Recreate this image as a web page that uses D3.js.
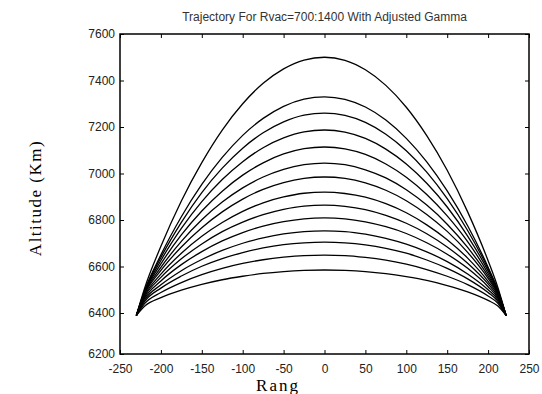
<!DOCTYPE html>
<html>
<head>
<meta charset="utf-8">
<script src="https://cdn.jsdelivr.net/npm/d3@7"></script>
<style>
  body { margin: 0; background: #fff; }
  svg { display: block; }
</style>
</head>
<body>
<svg id="chart"></svg>
<script>
// range grid (km) shared by all trajectories
const rangeKm = [-230, -220, -200, -175, -150, -125, -100, -75, -50, -25, 0,
                 25, 50, 75, 100, 125, 150, 175, 200, 212, 222];

const traj1  = [6388, 6506, 6687, 6882, 7047, 7187, 7300, 7388, 7450, 7488, 7500, 7487, 7446, 7379, 7285, 7163, 7014, 6835, 6625, 6509, 6388];
const traj2  = [6388, 6495, 6650, 6814, 6953, 7069, 7164, 7237, 7289, 7320, 7330, 7319, 7286, 7230, 7151, 7050, 6925, 6775, 6597, 6498, 6388];
const traj3  = [6388, 6494, 6639, 6790, 6918, 7023, 7109, 7175, 7222, 7251, 7260, 7250, 7220, 7169, 7098, 7006, 6892, 6755, 6590, 6497, 6388];
const traj4  = [6388, 6491, 6626, 6764, 6879, 6974, 7051, 7111, 7153, 7179, 7187, 7178, 7151, 7105, 7041, 6958, 6856, 6731, 6581, 6494, 6388];
const traj5  = [6388, 6488, 6611, 6736, 6839, 6924, 6993, 7046, 7084, 7107, 7114, 7106, 7082, 7041, 6984, 6910, 6818, 6707, 6570, 6490, 6388];
const traj6  = [6388, 6484, 6596, 6708, 6801, 6877, 6938, 6985, 7018, 7038, 7045, 7038, 7016, 6981, 6930, 6864, 6782, 6682, 6559, 6486, 6388];
const traj7  = [6388, 6480, 6583, 6684, 6767, 6835, 6890, 6932, 6961, 6979, 6985, 6979, 6960, 6928, 6883, 6824, 6751, 6661, 6549, 6482, 6388];
const traj8  = [6388, 6474, 6567, 6657, 6730, 6789, 6837, 6874, 6899, 6915, 6920, 6914, 6898, 6870, 6831, 6779, 6715, 6636, 6536, 6476, 6388];
const traj9  = [6388, 6469, 6553, 6633, 6697, 6750, 6791, 6823, 6846, 6860, 6864, 6859, 6845, 6820, 6786, 6741, 6684, 6614, 6525, 6470, 6388];
const traj10 = [6388, 6463, 6538, 6608, 6664, 6710, 6746, 6774, 6793, 6805, 6809, 6805, 6792, 6771, 6742, 6702, 6653, 6592, 6513, 6464, 6388];
const traj11 = [6388, 6456, 6521, 6582, 6630, 6669, 6700, 6723, 6740, 6750, 6753, 6750, 6739, 6721, 6696, 6663, 6621, 6568, 6500, 6457, 6388];
const traj12 = [6388, 6449, 6507, 6559, 6601, 6634, 6660, 6680, 6694, 6702, 6705, 6702, 6693, 6678, 6657, 6628, 6592, 6547, 6488, 6450, 6388];
const traj13 = [6388, 6440, 6488, 6531, 6565, 6592, 6613, 6629, 6640, 6647, 6649, 6647, 6639, 6627, 6610, 6587, 6558, 6522, 6473, 6442, 6388];
const traj14 = [6388, 6429, 6466, 6498, 6523, 6543, 6558, 6570, 6578, 6583, 6585, 6583, 6578, 6569, 6556, 6540, 6518, 6491, 6454, 6430, 6388];

const xTicks = [-250, -200, -150, -100, -50, 0, 50, 100, 150, 200, 250];
const yTicks = [6200, 6400, 6600, 6800, 7000, 7200, 7400, 7600];

const width = 542, height = 394;
const plot = { left: 120, right: 529, top: 34, bottom: 354 };

const svg = d3.select("#chart")
  .attr("width", width)
  .attr("height", height);

const x = d3.scaleLinear().domain([-250, 250]).range([plot.left, plot.right]);
// the picture's lowest interval is drawn a little shorter than the others
const y = d3.scaleLinear().domain([6200, 6400, 7600]).range([plot.bottom, 313, plot.top]);

const trajectories = [traj1, traj2, traj3, traj4, traj5, traj6, traj7,
                      traj8, traj9, traj10, traj11, traj12, traj13, traj14];

const line = d3.line()
  .x((d, i) => x(rangeKm[i]))
  .y(d => y(d))
  .curve(d3.curveMonotoneX);

svg.append("g")
  .attr("fill", "none")
  .attr("stroke", "#000")
  .attr("stroke-width", 1.3)
  .selectAll("path")
  .data(trajectories)
  .join("path")
  .attr("d", line);

// plain labels with ascii minus, like the original
const plain = d => String(d);

// axes, ticks pointing inward
const tickFont = g => g
  .attr("font-family", "'Liberation Sans', Arial, sans-serif")
  .attr("font-size", 12)
  .call(g => g.select(".domain").remove())
  .call(g => g.selectAll(".tick line").attr("stroke", "#000").attr("stroke-width", 1))
  .call(g => g.selectAll(".tick text").attr("fill", "#222"));

svg.append("g")
  .attr("transform", "translate(0," + plot.bottom + ")")
  .call(d3.axisBottom(x).tickValues(xTicks).tickFormat(plain).tickSizeInner(-4).tickSizeOuter(0).tickPadding(10))
  .call(tickFont);

svg.append("g")
  .attr("transform", "translate(0," + plot.top + ")")
  .call(d3.axisTop(x).tickValues(xTicks).tickSizeInner(-4).tickSizeOuter(0).tickFormat(""))
  .call(tickFont);

svg.append("g")
  .attr("transform", "translate(" + plot.left + ",0)")
  .call(d3.axisLeft(y).tickValues(yTicks).tickFormat(plain).tickSizeInner(-4).tickSizeOuter(0).tickPadding(5))
  .call(tickFont);

svg.append("g")
  .attr("transform", "translate(" + plot.right + ",0)")
  .call(d3.axisRight(y).tickValues(yTicks).tickSizeInner(-4).tickSizeOuter(0).tickFormat(""))
  .call(tickFont);

svg.append("rect")
  .attr("x", plot.left)
  .attr("y", plot.top)
  .attr("width", plot.right - plot.left)
  .attr("height", plot.bottom - plot.top)
  .attr("fill", "none")
  .attr("stroke", "#000")
  .attr("stroke-width", 1.5);

svg.append("text")
  .attr("x", (plot.left + plot.right) / 2)
  .attr("y", 21)
  .attr("text-anchor", "middle")
  .attr("font-family", "'Liberation Sans', Arial, sans-serif")
  .attr("font-size", 12)
  .attr("fill", "#333")
  .text("Trajectory For Rvac=700:1400 With Adjusted Gamma");

svg.append("text")
  .attr("x", 278)
  .attr("y", 391)
  .attr("text-anchor", "middle")
  .attr("font-family", "'Liberation Serif', 'Times New Roman', serif")
  .attr("font-size", 17)
  .attr("letter-spacing", 2)
  .attr("fill", "#000")
  .text("Rang");

svg.append("text")
  .attr("transform", "translate(41,198) rotate(-90)")
  .attr("text-anchor", "middle")
  .attr("font-family", "'Liberation Serif', 'Times New Roman', serif")
  .attr("font-size", 17)
  .attr("letter-spacing", 1.5)
  .attr("fill", "#000")
  .text("Altitude (Km)");
</script>
</body>
</html>
